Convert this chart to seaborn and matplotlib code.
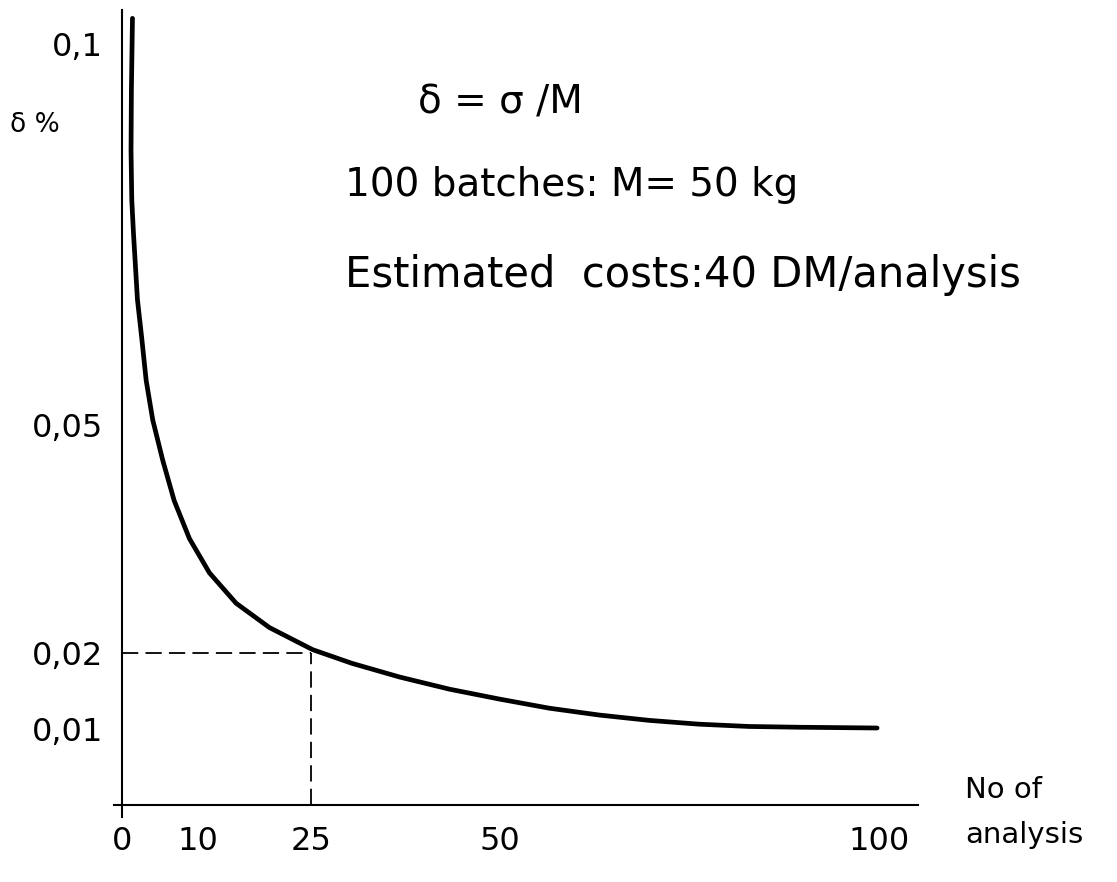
import matplotlib
matplotlib.use('Agg')
import matplotlib.pyplot as plt
import seaborn as sns
import pandas as pd

# 数据
n_analysis = [1.39, 1.25, 1.2, 1.3, 1.52, 2.05, 2.6, 3.2, 4.07, 5.39, 6.9, 8.92, 11.56,
              15.09, 19.5, 25.2, 30.4, 36.7, 43.3, 49.9, 56.5, 63.1, 69.7,
              76.3, 82.9, 89.5, 99.8]
delta_pct = [0.1034, 0.094, 0.086, 0.0795, 0.0752, 0.0664, 0.0615, 0.0558, 0.0506,
             0.0453, 0.0400, 0.0350, 0.0305, 0.0265, 0.0233, 0.0204, 0.0186, 0.0168,
             0.0152, 0.0139, 0.0127, 0.0118, 0.0111, 0.0106, 0.0103, 0.0102, 0.0101]

x_ticks = [0, 10, 25, 50, 100]
x_tick_labels = ['0', '10', '25', '50', '100']
y_ticks = [0.01, 0.02, 0.05, 0.1]
y_tick_labels = ['0,01', '0,02', '0,05', '0,1']

ref_n = 25
ref_delta = 0.02

df = pd.DataFrame({'n': n_analysis, 'delta': delta_pct})

sns.set_style('white')
plt.rcParams['font.family'] = ['DejaVu Sans']
plt.rcParams['text.color'] = 'black'
plt.rcParams['xtick.color'] = 'black'
plt.rcParams['ytick.color'] = 'black'

fig = plt.figure(figsize=(11.17, 8.82), dpi=100)
ax = fig.add_axes([0.1024, 0.0737, 0.7194, 0.915])

# 主曲线
sns.lineplot(data=df, x='n', y='delta', estimator=None, sort=False,
             color='black', linewidth=3.4, ax=ax)
ax.lines[0].set_solid_capstyle('round')
ax.lines[0].set_solid_joinstyle('round')

# 虚线参考线
ax.hlines(ref_delta, 0, ref_n, colors='black', linestyles=(0, (9, 4)), linewidth=1.3)
ax.vlines(ref_n, 0, ref_delta, colors='black', linestyles=(0, (9, 4)), linewidth=1.3)

ax.set_xlim(-1, 105.2)
ax.set_ylim(-0.0016, 0.1045)

# 坐标轴样式
for s in ['top', 'right']:
    ax.spines[s].set_visible(False)
for s in ['left', 'bottom']:
    ax.spines[s].set_position(('data', 0))
    ax.spines[s].set_linewidth(1.5)
    ax.spines[s].set_color('black')

ax.set_xticks(x_ticks)
ax.set_xticklabels(x_tick_labels, fontsize=23)
ax.set_yticks(y_ticks)
ax.set_yticklabels(y_tick_labels, fontsize=23)
ax.tick_params(axis='both', direction='out', length=8.5, width=1.3, color='black')
ax.tick_params(axis='x', pad=7)
ax.tick_params(axis='y', pad=5)
ax.set_xlabel('')
ax.set_ylabel('')

# 文字标注
fig.text(0.009, 0.858, 'δ %', fontsize=19, ha='left', va='center')
fig.text(0.374, 0.884, 'δ = σ /M', fontsize=28, ha='left', va='center')
fig.text(0.309, 0.790, '100 batches: M= 50 kg', fontsize=28, ha='left', va='center')
fig.text(0.309, 0.688, 'Estimated  costs:40 DM/analysis', fontsize=30, ha='left', va='center')
fig.text(0.864, 0.104, 'No of', fontsize=21, ha='left', va='center')
fig.text(0.864, 0.053, 'analysis', fontsize=21, ha='left', va='center')

fig.savefig('out.png', dpi=100, facecolor='white')
